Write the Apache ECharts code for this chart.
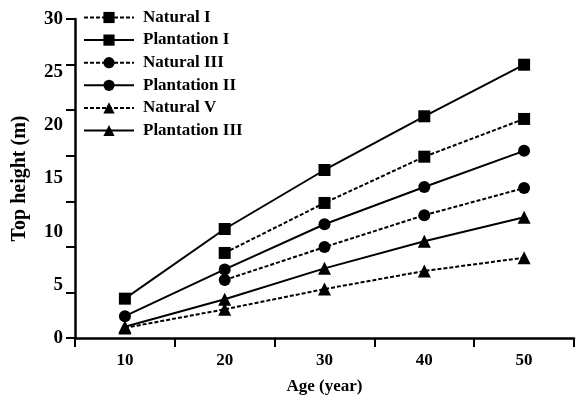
<!DOCTYPE html>
<html>
<head>
<meta charset="utf-8">
<script src="https://cdn.jsdelivr.net/npm/echarts@6/dist/echarts.min.js"></script>
<style>html,body{margin:0;padding:0;background:#fff;}#main{width:584px;height:400px;}</style>
</head>
<body>
<div id="main"></div>
<script>
// Categories (age, years)
const ages = ['10', '20', '30', '40', '50'];
// Series values (top height, m)
const naturalI      = [null, 8.0, 12.7, 17.05, 20.6];
const plantationI   = [3.7, 10.25, 15.8, 20.85, 25.7];
const naturalIII    = [null, 5.45, 8.55, 11.55, 14.1];
const plantationII  = [2.05, 6.45, 10.7, 14.2, 17.6];
const naturalV      = [0.95, 2.7, 4.6, 6.3, 7.55];
const plantationIII = [1.05, 3.65, 6.55, 9.1, 11.35];
// Y tick labels
const yLabels = [0, 5, 10, 15, 20, 25, 30];
// Y tick marks (as drawn in the figure)
const yTickMarks = [0, 5, 10, 15, 20, 25, 30, 35];

const FONT = 'Liberation Serif';
const seriesDefs = [
  {name: 'Natural I', data: naturalI, symbol: 'rect', dashed: true},
  {name: 'Plantation I', data: plantationI, symbol: 'rect', dashed: false},
  {name: 'Natural III', data: naturalIII, symbol: 'circle', dashed: true},
  {name: 'Plantation II', data: plantationII, symbol: 'circle', dashed: false},
  {name: 'Natural V', data: naturalV, symbol: 'triangle', dashed: true},
  {name: 'Plantation III', data: plantationIII, symbol: 'triangle', dashed: false}
];

const chart = echarts.init(document.getElementById('main'), null, {renderer: 'canvas'});
chart.setOption({
  animation: false,
  backgroundColor: '#fff',
  grid: {left: 75, right: 10, top: 19, bottom: 58, containLabel: false},
  legend: {
    orient: 'vertical', left: 83, top: 9, padding: 0,
    itemWidth: 50, itemHeight: 14, itemGap: 5.6,
    textStyle: {fontFamily: FONT, fontWeight: 'bold', fontSize: 17, color: '#000', padding: [0, 0, 0, 4]},
    data: seriesDefs.map(s => s.name)
  },
  xAxis: {
    type: 'category', data: ages, boundaryGap: true,
    name: 'Age (year)', nameLocation: 'middle', nameGap: 40,
    nameTextStyle: {fontFamily: FONT, fontWeight: 'bold', fontSize: 17, color: '#000'},
    axisLine: {lineStyle: {color: '#000', width: 2.5}},
    axisTick: {show: true, length: 9, lineStyle: {color: '#000', width: 2}},
    axisLabel: {margin: 14, fontFamily: FONT, fontWeight: 'bold', fontSize: 17, color: '#000'},
    splitLine: {show: false}
  },
  yAxis: [
    {
      type: 'value', min: yLabels[0], max: yLabels[yLabels.length - 1], interval: yLabels[1] - yLabels[0], position: 'left',
      name: 'Top height (m)', nameLocation: 'middle', nameGap: 45, nameRotate: 90,
      nameTextStyle: {fontFamily: FONT, fontWeight: 'bold', fontSize: 20, color: '#000'},
      axisLine: {show: false},
      axisTick: {show: false},
      axisLabel: {margin: 12, fontFamily: FONT, fontWeight: 'bold', fontSize: 19, color: '#000'},
      splitLine: {show: false}
    },
    {
      type: 'value', min: yTickMarks[0], max: yTickMarks[yTickMarks.length - 1], interval: yTickMarks[1] - yTickMarks[0], position: 'left',
      axisLine: {show: true, lineStyle: {color: '#000', width: 2.5}},
      axisTick: {show: true, length: 9, lineStyle: {color: '#000', width: 2}},
      axisLabel: {show: false},
      splitLine: {show: false}
    }
  ],
  series: seriesDefs.map(s => ({
    name: s.name, type: 'line', yAxisIndex: 0, data: s.data,
    symbol: s.symbol, symbolSize: s.symbol === 'triangle' ? 13 : 12,
    showAllSymbol: true, connectNulls: false,
    lineStyle: {color: '#000', width: 2, type: s.dashed ? [4, 2] : 'solid'},
    itemStyle: {color: '#000'},
    z: 3
  }))
});
</script>
</body>
</html>
